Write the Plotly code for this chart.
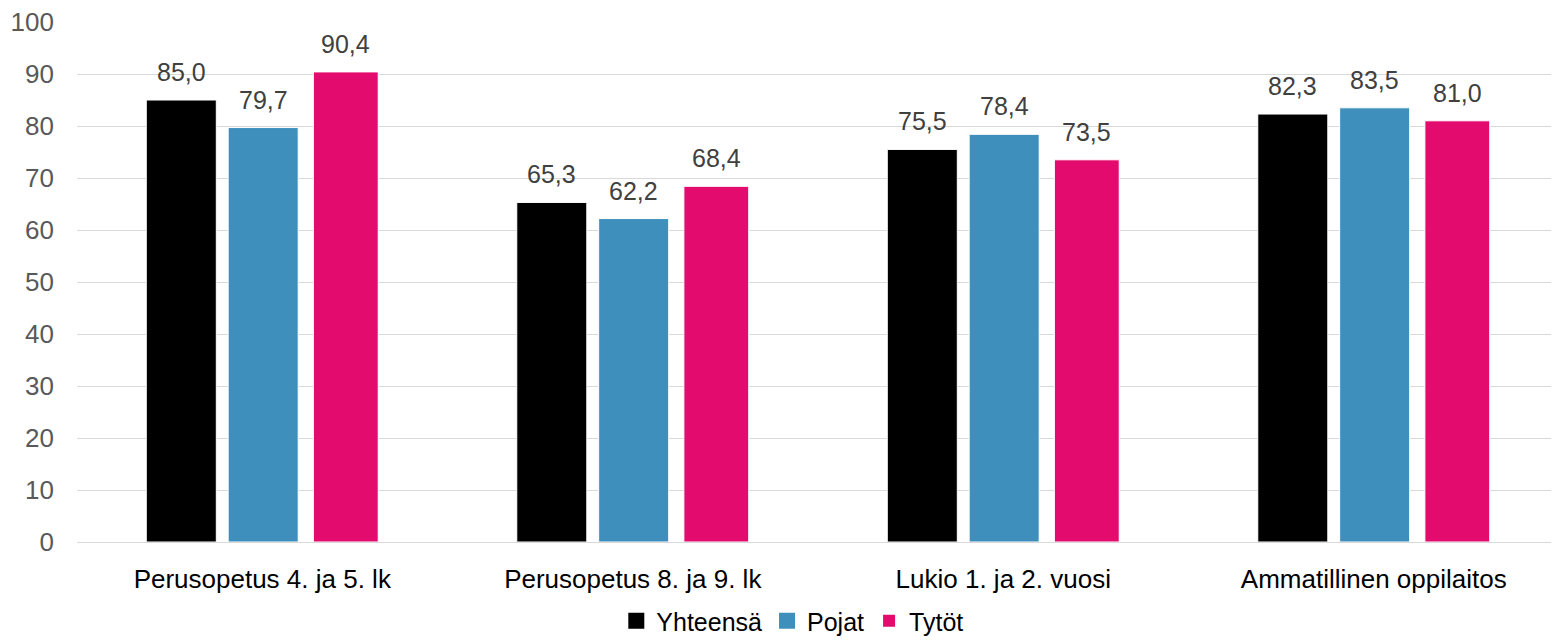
import plotly.graph_objects as go

categories = ["Perusopetus 4. ja 5. lk", "Perusopetus 8. ja 9. lk",
              "Lukio 1. ja 2. vuosi", "Ammatillinen oppilaitos"]
yhteensa = [85.0, 65.3, 75.5, 82.3]
pojat = [79.7, 62.2, 78.4, 83.5]
tytot = [90.4, 68.4, 73.5, 81.0]
y_ticks = [0, 10, 20, 30, 40, 50, 60, 70, 80, 90, 100]

# name, values, colour, bar width, offset (category units), legend marker size
series = [
    ("Yhteensä", yhteensa, "#000000", 0.189, -0.313, 16),
    ("Pojat", pojat, "#3f8fbd", 0.189, -0.092, 16),
    ("Tytöt", tytot, "#e40b6e", 0.175, 0.138, 12),
]

# page body has an 8px margin, so the figure is a bit smaller than the window
W, H = 1551, 634
ML, MR, MT, MB = 69, 0, 14, 100
cat_px = (W - ML - MR) / len(categories)

fig = go.Figure()
for name, vals, col, w, off, msize in series:
    fig.add_trace(go.Bar(
        x=categories, y=vals, name=name, showlegend=False,
        marker=dict(color=col, line=dict(color="white", width=1)),
        width=w, offset=off,
    ))
    # value labels above bars
    shift = (off + w / 2) * cat_px
    for c, v in zip(categories, vals):
        fig.add_annotation(x=c, y=v, text=f"{v:.1f}".replace(".", ","),
                           showarrow=False, yanchor="bottom", xshift=shift, yshift=12,
                           font=dict(size=25, color="#404040"))
    # legend entry
    fig.add_trace(go.Scatter(
        x=[None], y=[None], mode="markers", name=name,
        marker=dict(symbol="square", size=msize, color=col),
    ))

fig.update_layout(
    width=W, height=H,
    margin=dict(l=ML, r=MR, t=MT, b=MB, autoexpand=False),
    paper_bgcolor="white", plot_bgcolor="white",
    barmode="overlay",
    font=dict(family="Liberation Sans, Arial, sans-serif", size=26, color="#000000"),
    legend=dict(orientation="h", x=0.483, xanchor="center", y=-0.152, yanchor="middle",
                font=dict(size=25, color="#000000"), itemwidth=30, traceorder="normal",
                itemclick=False),
    xaxis=dict(showgrid=False, showline=True, linecolor="#d9d9d9", linewidth=1,
               tickfont=dict(size=26, color="#000000"), ticklabelstandoff=14),
    yaxis=dict(range=[0, 100], tickvals=y_ticks, showgrid=True, gridcolor="#d9d9d9",
               gridwidth=1, zeroline=False, tickfont=dict(size=26, color="#595959"),
               ticklabelstandoff=22, ticklabeloverflow="allow"),
)

fig.write_html("out.html")
